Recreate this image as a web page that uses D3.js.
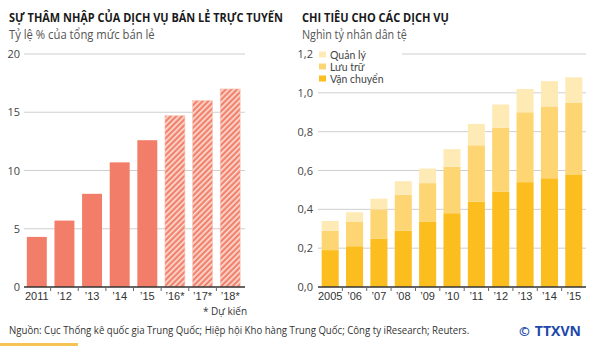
<!DOCTYPE html>
<html><head><meta charset="utf-8">
<script src="https://cdn.jsdelivr.net/npm/d3@7"></script>
<style>body{margin:0;background:#fff}svg{display:block;font-family:"Open Sans",Lato,sans-serif}</style>
</head><body><svg id="c" width="600" height="346"></svg>
<script>
// ---- data ----
const leftYears = ["2011","’12","’13","’14","’15","’16*","’17*","’18*"];
const leftValues = [4.3, 5.7, 8.0, 10.7, 12.6, 14.7, 16.0, 17.0];
const leftForecast = [false,false,false,false,false,true,true,true];
const leftTicks = [0,5,10,15,20];

const rightYears = ["2005","’06","’07","’08","’09","’10","’11","’12","’13","’14","’15"];
const vanChuyen = [0.19,0.21,0.25,0.29,0.335,0.38,0.44,0.49,0.54,0.56,0.58];
const luuTru    = [0.10,0.125,0.15,0.185,0.20,0.24,0.29,0.33,0.36,0.37,0.37];
const quanLy    = [0.05,0.05,0.055,0.07,0.075,0.09,0.11,0.12,0.12,0.13,0.13];
const rightTicks = [0,0.2,0.4,0.6,0.8,1.0,1.2];
const seriesNames = ["Vận chuyển","Lưu trữ","Quản lý"];
const seriesColors = ["#fbbe1e","#fdd673","#feeab5"];

const svg = d3.select("#c");
const defs = svg.append("defs");
const pat = defs.append("pattern").attr("id","hatch").attr("patternUnits","userSpaceOnUse")
  .attr("width",4).attr("height",4).attr("patternTransform","rotate(45)");
pat.append("rect").attr("width",4).attr("height",4).attr("fill","#f1836e");
pat.append("rect").attr("width",1.6).attr("height",4).attr("fill","#fde0d6");

// text squeezed horizontally to a target width via transform
function txt(x,y,s,opts={}){
  const g = svg.append("g").attr("transform",`translate(${x},${y})`);
  const t = g.append("text").text(s)
    .attr("font-size",opts.size||12).attr("fill",opts.fill||"#222")
    .attr("font-weight",opts.weight||"normal");
  if(opts.family) t.attr("font-family",opts.family);
  if(opts.len){
    const w = t.node().getComputedTextLength();
    if(w>0) g.attr("transform",`translate(${x},${y}) scale(${opts.len/w},1)`);
  }
  return t;
}
txt(9,22,"SỰ THÂM NHẬP CỦA DỊCH VỤ BÁN LẺ TRỰC TUYẾN",{size:13,weight:"bold",fill:"#1a1a1a",len:274});
txt(9,39,"Tỷ lệ % của tổng mức bán lẻ",{size:12,fill:"#555",len:146});
txt(302,22,"CHI TIÊU CHO CÁC DỊCH VỤ",{size:13,weight:"bold",fill:"#1a1a1a",len:147});
txt(302,39,"Nghìn tỷ nhân dân tệ",{size:12,fill:"#555",len:105});

// ---- left chart ----
const xL = d3.scaleBand().domain(leftYears).range([23,244]).paddingInner(0.278).paddingOuter(0.139);
const yL = d3.scaleLinear().domain([0,20]).range([287,54]);
const gL = svg.append("g");
gL.selectAll("line.grid").data(leftTicks.slice(1)).join("line")
  .attr("x1",24).attr("x2",245).attr("y1",d=>yL(d)).attr("y2",d=>yL(d))
  .attr("stroke","#cfcfcf").attr("stroke-width",1);
gL.selectAll("text.yl").data(leftTicks).join("text")
  .attr("x",20).attr("y",d=>yL(d)+4).attr("text-anchor","end")
  .attr("font-size",11).attr("fill","#444").text(d=>d);
gL.selectAll("rect.bar").data(leftYears).join("rect")
  .attr("x",d=>xL(d)).attr("width",xL.bandwidth())
  .attr("y",(d,i)=>yL(leftValues[i])).attr("height",(d,i)=>yL(0)-yL(leftValues[i]))
  .attr("fill",(d,i)=>leftForecast[i]?"url(#hatch)":"#f27e69")
  .attr("stroke",(d,i)=>leftForecast[i]?"#f9c3b6":"none").attr("stroke-width",0.6);
const axL = d3.axisBottom(xL).tickSize(0).tickPadding(5);
const gax = svg.append("g").attr("transform",`translate(0,${yL(0)})`).call(axL);
gax.select(".domain").remove();
gax.selectAll("text").attr("font-size",11).attr("fill","#333").attr("font-family",null);
gL.append("line").attr("x1",24).attr("x2",245).attr("y1",yL(0)).attr("y2",yL(0)).attr("stroke","#333").attr("stroke-width",1.5);
const bndL = leftYears.slice(1).map(d=>xL(d)-xL.step()*xL.paddingInner()/2);
gL.selectAll("line.tk").data(bndL).join("line")
  .attr("x1",d=>d).attr("x2",d=>d).attr("y1",yL(0)).attr("y2",yL(0)+4).attr("stroke","#666");

// ---- right chart ----
const xR = d3.scaleBand().domain(rightYears).range([318,586]).paddingInner(0.30).paddingOuter(0.15);
const yR = d3.scaleLinear().domain([0,1.2]).range([287,54]);
const gR = svg.append("g");
gR.selectAll("line.grid").data(rightTicks.slice(1)).join("line")
  .attr("x1",d=>d===1.2?402:318).attr("x2",586).attr("y1",d=>yR(d)).attr("y2",d=>yR(d))
  .attr("stroke","#cfcfcf");
const fmt = d=>d3.format(".1f")(d).replace(".",",");
gR.selectAll("text.yl").data(rightTicks).join("text")
  .attr("x",313).attr("y",d=>yR(d)+4).attr("text-anchor","end")
  .attr("font-size",11).attr("fill","#444").text(fmt);
const table = rightYears.map((y,i)=>({year:y, v:vanChuyen[i], l:luuTru[i], q:quanLy[i]}));
const stack = d3.stack().keys(["v","l","q"])(table);
gR.selectAll("g.s").data(stack).join("g").attr("fill",(d,i)=>seriesColors[i])
  .selectAll("rect").data(d=>d).join("rect")
  .attr("x",d=>xR(d.data.year)).attr("width",xR.bandwidth())
  .attr("y",d=>yR(d[1])).attr("height",d=>yR(d[0])-yR(d[1]));
const axR = d3.axisBottom(xR).tickSize(0).tickPadding(5);
const gax2 = svg.append("g").attr("transform",`translate(0,${yR(0)})`).call(axR);
gax2.select(".domain").remove();
gax2.selectAll("text").attr("font-size",11).attr("fill","#333").attr("font-family",null);
gR.append("line").attr("x1",318).attr("x2",586).attr("y1",yR(0)).attr("y2",yR(0)).attr("stroke","#333").attr("stroke-width",1.5);
const bndR = rightYears.slice(1).map(d=>xR(d)-xR.step()*xR.paddingInner()/2);
gR.selectAll("line.tk").data(bndR).join("line")
  .attr("x1",d=>d).attr("x2",d=>d).attr("y1",yR(0)).attr("y2",yR(0)+4).attr("stroke","#666");

// legend
const legOrder = [2,1,0];
const lg = svg.append("g");
legOrder.forEach((si,k)=>{
  const y = 55 + k*12;
  lg.append("rect").attr("x",319).attr("y",y-3.5).attr("width",7).attr("height",6).attr("fill",seriesColors[si]);
  lg.append("text").attr("x",330).attr("y",y+3.5).attr("font-size",10.5).attr("font-family","Lato, sans-serif")
    .attr("fill","#444").text(seriesNames[si]);
});

// footer
txt(203,315,"* Dự kiến",{size:10,fill:"#333"});
txt(9,334,"Nguồn: Cục Thống kê quốc gia Trung Quốc; Hiệp hội Kho hàng Trung Quốc; Công ty iResearch; Reuters.",{size:11,fill:"#333",len:461});
const logo = svg.append("text").attr("x",519).attr("y",336).attr("font-weight","bold").attr("fill","#2048a8");
logo.append("tspan").attr("font-size",13).text("©");
logo.append("tspan").attr("font-size",14).attr("dx",5).text("TTXVN");
svg.append("rect").attr("x",0).attr("y",343).attr("width",78).attr("height",3).attr("fill","#f6c453");
</script></body></html>
